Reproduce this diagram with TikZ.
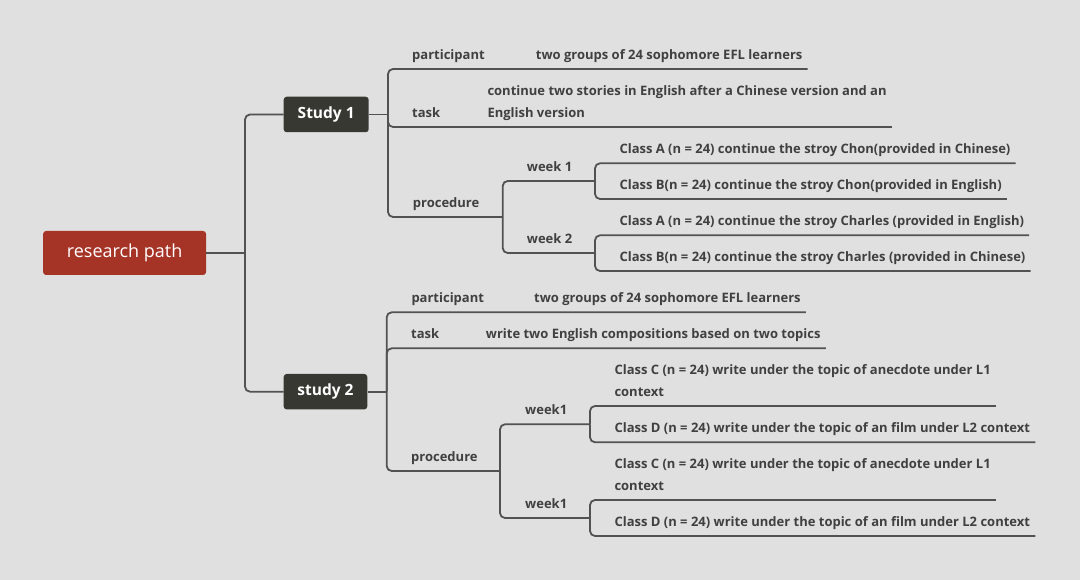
\documentclass[tikz,border=0pt]{standalone}
\usepackage{fontspec}
\setmainfont{Open Sans}
\definecolor{bggray}{HTML}{E0E0E0}
\definecolor{rootred}{HTML}{A63426}
\definecolor{studydark}{HTML}{383833}
\definecolor{linegray}{HTML}{525252}
\definecolor{textgray}{HTML}{404040}

\begin{document}
\begin{tikzpicture}[x=1pt,y=-1pt,
  link/.style={draw=linegray,line width=1.8pt,rounded corners=5pt},
  lbl/.style={anchor=south west,inner sep=0pt,text depth=9.6pt,text=textgray,align=left,
    font=\fontsize{13}{22}\selectfont\bfseries},
  studybox/.style={fill=studydark,rounded corners=3pt,text=white,inner sep=0pt,
    minimum width=85pt,minimum height=35.5pt,font=\fontsize{15.5}{15.5}\selectfont\bfseries}]
\useasboundingbox (0,0) rectangle (1080,580);
\fill[bggray] (0,0) rectangle (1080,580);

\node[fill=rootred,rounded corners=3pt,text=white,minimum width=163pt,minimum height=44pt,
  font=\fontsize{18}{18}\selectfont] (root) at (124.6,253) {research path};
\node[studybox] (s1) at (326.2,114.5) {Study 1};
\node[studybox,minimum width=83.6pt] (s2) at (325.5,391.7) {study 2};
\coordinate (trunk) at (245,253);
\draw[link] (root.east) -- (trunk);
\draw[link] (trunk) |- (s1.west);
\draw[link] (trunk) |- (s2.west);

% Study 1
\node[lbl] (part1) at (412,69) {participant};
\node[lbl] (pval1) at (535.7,69) {two groups of 24 sophomore EFL learners};
\node[lbl] (task1) at (412,127) {task};
\node[lbl] (tval1) at (487.3,127) {continue two stories in English after a Chinese version and an\\English version};
\node[lbl] (proc1) at (412.7,217) {procedure};
\node[lbl] (wk11) at (526.7,181) {week 1};
\node[lbl] (wk12) at (526.7,253) {week 2};
\node[lbl] (ca1) at (619.3,163.3) {Class A (n = 24) continue the stroy Chon(provided in Chinese)};
\node[lbl] (cb1) at (619.3,199) {Class B(n = 24) continue the stroy Chon(provided in English)};
\node[lbl] (ca2) at (619.3,235.3) {Class A (n = 24) continue the stroy Charles (provided in English)};
\node[lbl] (cb2) at (619.3,271) {Class B(n = 24) continue the stroy Charles (provided in Chinese)};
\coordinate (j1) at (388,114.5);
\coordinate (pj1) at (502.7,217);
\coordinate (wj11) at (595,181);
\coordinate (wj12) at (595,253);
\draw[link] (s1.east) -- (j1);
\draw[link] (j1) |- ([xshift=5pt]pval1.south east);
\draw[link] (j1) |- ([xshift=5pt]tval1.south east);
\draw[link] (j1) |- (pj1);
\draw[link] (pj1) |- (wj11);
\draw[link] (pj1) |- (wj12);
\draw[link] (wj11) |- ([xshift=5pt]ca1.south east);
\draw[link] (wj11) |- ([xshift=5pt]cb1.south east);
\draw[link] (wj12) |- ([xshift=5pt]ca2.south east);
\draw[link] (wj12) |- ([xshift=5pt]cb2.south east);

% study 2
\node[lbl] (part2) at (411.3,312.3) {participant};
\node[lbl] (pval2) at (534,312.3) {two groups of 24 sophomore EFL learners};
\node[lbl] (task2) at (411,348.3) {task};
\node[lbl] (tval2) at (485.7,348.3) {write two English compositions based on two topics};
\node[lbl] (proc2) at (411,471) {procedure};
\node[lbl] (wk21) at (525,424.3) {week1};
\node[lbl] (wk22) at (525,518) {week1};
\node[lbl] (cc1) at (614.3,406) {Class C (n = 24) write under the topic of anecdote under L1\\context};
\node[lbl] (cd1) at (614.3,442.3) {Class D (n = 24) write under the topic of an film under L2 context};
\node[lbl] (cc2) at (614.3,500) {Class C (n = 24) write under the topic of anecdote under L1\\context};
\node[lbl] (cd2) at (614.3,536) {Class D (n = 24) write under the topic of an film under L2 context};
\coordinate (j2) at (386.7,391.7);
\coordinate (pj2) at (500,471);
\coordinate (wj21) at (590,424.3);
\coordinate (wj22) at (590,518);
\draw[link] (s2.east) -- (j2);
\draw[link] (j2) |- ([xshift=5pt]pval2.south east);
\draw[link] (j2) |- ([xshift=5pt]tval2.south east);
\draw[link] (j2) |- (pj2);
\draw[link] (pj2) |- (wj21);
\draw[link] (pj2) |- (wj22);
\draw[link] (wj21) |- ([xshift=5pt]cc1.south east);
\draw[link] (wj21) |- ([xshift=5pt]cd1.south east);
\draw[link] (wj22) |- ([xshift=5pt]cc2.south east);
\draw[link] (wj22) |- ([xshift=5pt]cd2.south east);
\end{tikzpicture}
\end{document}
